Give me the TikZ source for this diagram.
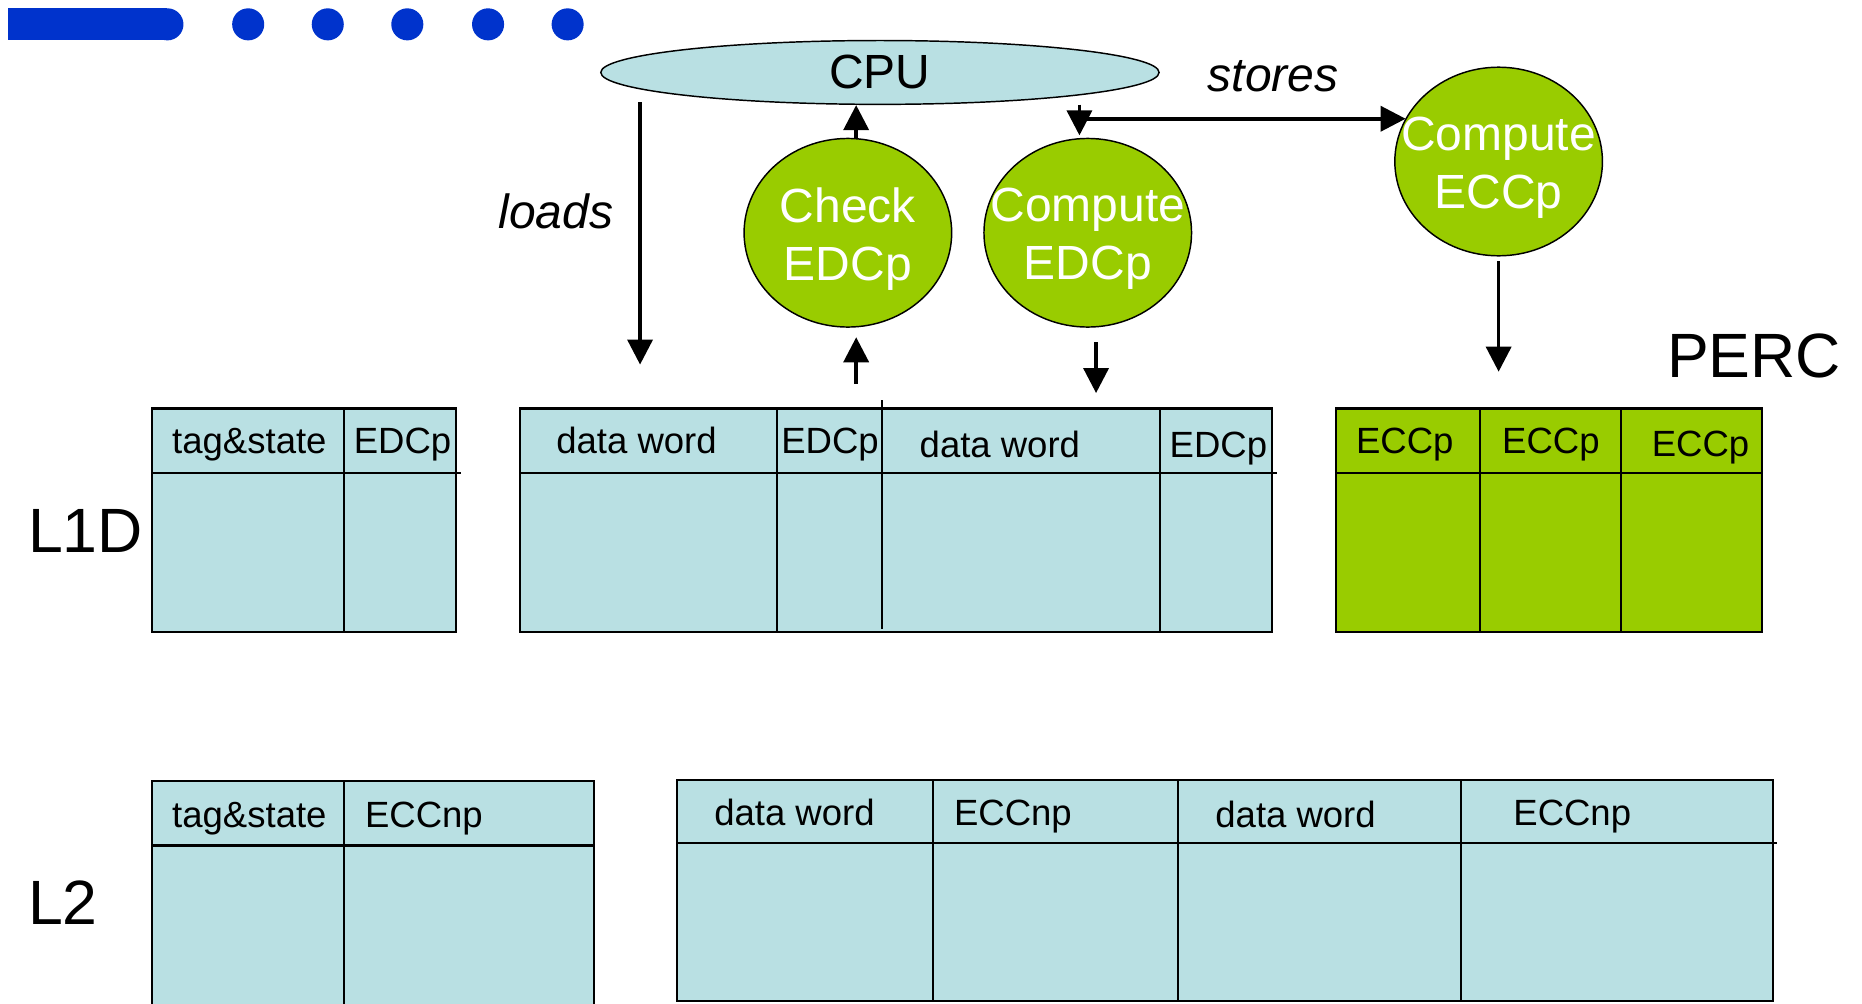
\documentclass[tikz,border=0pt]{standalone}
\usepackage{fontspec}
\setmainfont{Liberation Sans}
\usepackage{tikz}
\usetikzlibrary{shapes.geometric,arrows.meta,positioning,calc}
\definecolor{cache}{HTML}{B9E0E3}
\definecolor{perc}{HTML}{99CC00}
\definecolor{deco}{HTML}{0033CC}
\newcommand{\bigtxt}{\fontsize{30}{36}\selectfont}
\newcommand{\midtxt}{\fontsize{23}{28}\selectfont}
\newcommand{\celltxt}{\fontsize{17.5}{21}\selectfont}

\begin{document}
\begin{tikzpicture}[x=0.02cm,y=-0.02cm,
  font=\midtxt,
  blob/.style={ellipse,draw,line width=0.7pt,fill=perc,inner sep=0pt,
               minimum width=99.5pt,minimum height=90.4pt},
  btext/.style={text=white,align=center,inner sep=0pt},
  tbl/.style={draw,line width=1pt,fill=cache},
  sep/.style={line width=1pt},
  hdr/.style={font=\celltxt,inner sep=0pt,anchor=base},
  arr/.style={line width=1.7pt,-{Triangle[length=12pt,width=12pt]}},
  big/.style={font=\bigtxt,inner sep=0pt}]
\useasboundingbox (0,0) rectangle (1568,845);

% title bar
\fill[deco] (7,7) rectangle (141,34);
\fill[deco] (141,20.5) circle[radius=13.5];
\fill[deco] (209,20.5) circle[radius=13.5];
\fill[deco] (276,20.5) circle[radius=13.5];
\fill[deco] (343,20.5) circle[radius=13.5];
\fill[deco] (411,20.5) circle[radius=13.5];
\fill[deco] (478,20.5) circle[radius=13.5];

% cpu and the code units
\node[ellipse,draw,line width=0.7pt,fill=cache,inner sep=0pt,
      minimum width=267.6pt,minimum height=30.6pt] (cpu) at (741,61) {CPU};
\node[blob] (chk) at (714,196) {};
\node[btext] (chkt) at ([yshift=-3pt]chk.center) {Check\\EDCp};
\node[blob] (cedc) at (916,196) {};
\node[btext] (cedct) at ([yshift=-3pt]cedc.center) {Compute\\EDCp};
\node[blob] (cecc) at (1262,136) {};
\node[btext] (cecct) at ([yshift=-3pt]cecc.center) {Compute\\ECCp};

\node[font=\midtxt\itshape,inner sep=0pt] (loads) at (468,178) {loads};
\node[font=\midtxt\itshape,inner sep=0pt] (stores) at (1072,64) {stores};
\node[big] (l1d) at (72,447) {L1D};
\node[big] (l2) at (53,760) {L2};
\node[big] (percl) at (1477,300) {PERC};

% L1D tags
\path[tbl] (128,344) rectangle (384,532);
\draw[sep] (128,398) -- (388,398) (290,344) -- (290,532);
\node[hdr] (tag1) at (210,382) {tag\&state};
\node[hdr] (edc0) at (339,382) {EDCp};

% L1D data
\path[tbl] (438,344) rectangle (1071,532);
\draw[sep] (438,398) -- (1075,398) (654,344) -- (654,532)
  (743,337) -- (743,530) (977,344) -- (977,532);
\node[hdr] (dw1) at (536,382) {data word};
\node[hdr] (edc1) at (699,382) {EDCp};
\node[hdr] (dw2) at (842,385) {data word};
\node[hdr] (edc2) at (1026,385) {EDCp};

% PERC
\path[tbl,fill=perc] (1125,344) rectangle (1484,532);
\draw[sep] (1125,398) -- (1484,398) (1246,344) -- (1246,532)
  (1365,344) -- (1365,532);
\node[hdr] (ecc1) at (1183,382) {ECCp};
\node[hdr] (ecc2) at (1306,382) {ECCp};
\node[hdr] (ecc3) at (1432,384) {ECCp};

% L2 tags
\path[tbl] (128,658) rectangle (500,850);
\draw[sep] (128,712) -- (500,712) (290,658) -- (290,850);
\node[hdr] (tag2) at (210,697) {tag\&state};
\node[hdr] (eccn0) at (357,697) {ECCnp};

% L2 data
\path[tbl] (570,657) rectangle (1493,843);
\draw[sep] (570,710) -- (1496,710) (786,657) -- (786,843)
  (992,657) -- (992,843) (1230,657) -- (1230,843);
\node[hdr] (dw3) at (669,695) {data word};
\node[hdr] (eccn1) at (853,695) {ECCnp};
\node[hdr] (dw4) at (1091,697) {data word};
\node[hdr] (eccn2) at (1324,695) {ECCnp};

% arrows
\coordinate (ldtop) at (539,86);
\coordinate (ldbot) at (539,307);
\draw[arr] (ldtop) -- (ldbot);
\coordinate (chkin) at (721,323);
\coordinate (chkhd) at (721,284);
\draw[arr] (chkin) -- (chkhd);
\draw[arr] (chk.85) -- (chk.85 |- cpu.south);
\coordinate (cedcout) at (923,288);
\coordinate (cedchd) at (923,331);
\draw[arr] (cedcout) -- (cedchd);
\coordinate (stsrc) at (909,88);
\coordinate (stj) at (909,100);
\coordinate (sthd) at (909,114);
\draw[arr] (stsrc) -- (sthd);
\draw[arr] (stj) -- (stj -| cecc.155);
\coordinate (eccout) at (1262,220);
\coordinate (ecchd) at (1262,313);
\draw[arr] (eccout) -- (ecchd);
\end{tikzpicture}
\end{document}
